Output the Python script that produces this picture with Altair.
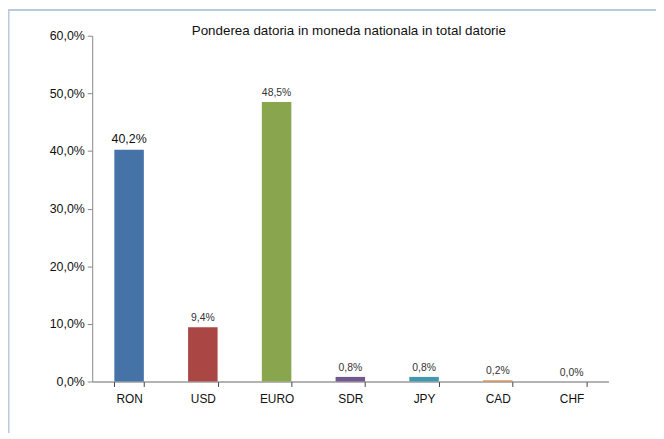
import altair as alt
import pandas as pd

categories = ["RON", "USD", "EURO", "SDR", "JPY", "CAD", "CHF"]
values = [40.2, 9.4, 48.5, 0.8, 0.8, 0.2, 0.0]
colors = ["#4572A7", "#AA4643", "#89A54E", "#71588F", "#4198AF", "#DB843D", "#93A9CF"]
title_text = "Ponderea datoria in moneda nationala in total datorie"

df = pd.DataFrame({"cat": categories, "v": values})

W, H = 521, 349
FONT = "Liberation Sans"

x = alt.X("cat:N", sort=categories, title=None,
          scale=alt.Scale(paddingInner=0.6, paddingOuter=0.3),
          axis=alt.Axis(labelAngle=0, labelFontSize=12, labelColor="#111",
                        labelFont=FONT, tickBand="extent", tickSize=5,
                        tickColor="#444", domainColor="#666", labelPadding=7))
y = alt.Y("v:Q", title=None,
          scale=alt.Scale(domain=[0, 60], nice=False),
          axis=alt.Axis(values=[0, 10, 20, 30, 40, 50, 60], grid=False,
                        labelExpr="replace(format(datum.value, '.1f'), '.', ',') + '%'",
                        labelFontSize=12.5, labelColor="#111", labelFont=FONT,
                        tickSize=5, tickColor="#888", domainColor="#888",
                        labelPadding=3))

bars = alt.Chart(df).mark_bar().encode(
    x=x, y=y,
    color=alt.Color("cat:N", sort=categories,
                    scale=alt.Scale(domain=categories, range=colors), legend=None),
)

labels = alt.Chart(df).transform_calculate(
    lab="replace(format(datum.v, '.1f'), '.', ',') + '%'"
).mark_text(baseline="bottom", dy=-4, font=FONT).encode(
    x=alt.X("cat:N", sort=categories),
    y="v:Q",
    text="lab:N",
    size=alt.condition(alt.datum.cat == "RON", alt.value(12.5), alt.value(10.5)),
    color=alt.condition(alt.datum.cat == "RON", alt.value("#111"), alt.value("#333")),
)

title = alt.Chart(pd.DataFrame({"t": [title_text]})).mark_text(
    font=FONT, fontSize=13.5, color="#111", baseline="alphabetic", align="center"
).encode(x=alt.value(W / 2 - 1.5), y=alt.value(-0.5), text="t:N")

frame_top = alt.Chart(df).mark_rule(color="#B9C9DE", strokeWidth=1.2).encode(
    x=alt.value(-85), x2=alt.value(W + 60), y=alt.value(-26))
frame_left = alt.Chart(df).mark_rule(color="#B9C9DE", strokeWidth=1.2).encode(
    x=alt.value(-84.5), y=alt.value(-26), y2=alt.value(H + 60))

chart = alt.layer(frame_top, frame_left, title, bars, labels).properties(
    width=W, height=H,
    background="white",
    autosize=alt.AutoSizeParams(type="none"),
    padding={"left": 85, "top": 26, "right": 48, "bottom": 50},
).configure_view(stroke="transparent", strokeWidth=0)

chart.save("out.html", embed_options={"renderer": "svg", "actions": False})
